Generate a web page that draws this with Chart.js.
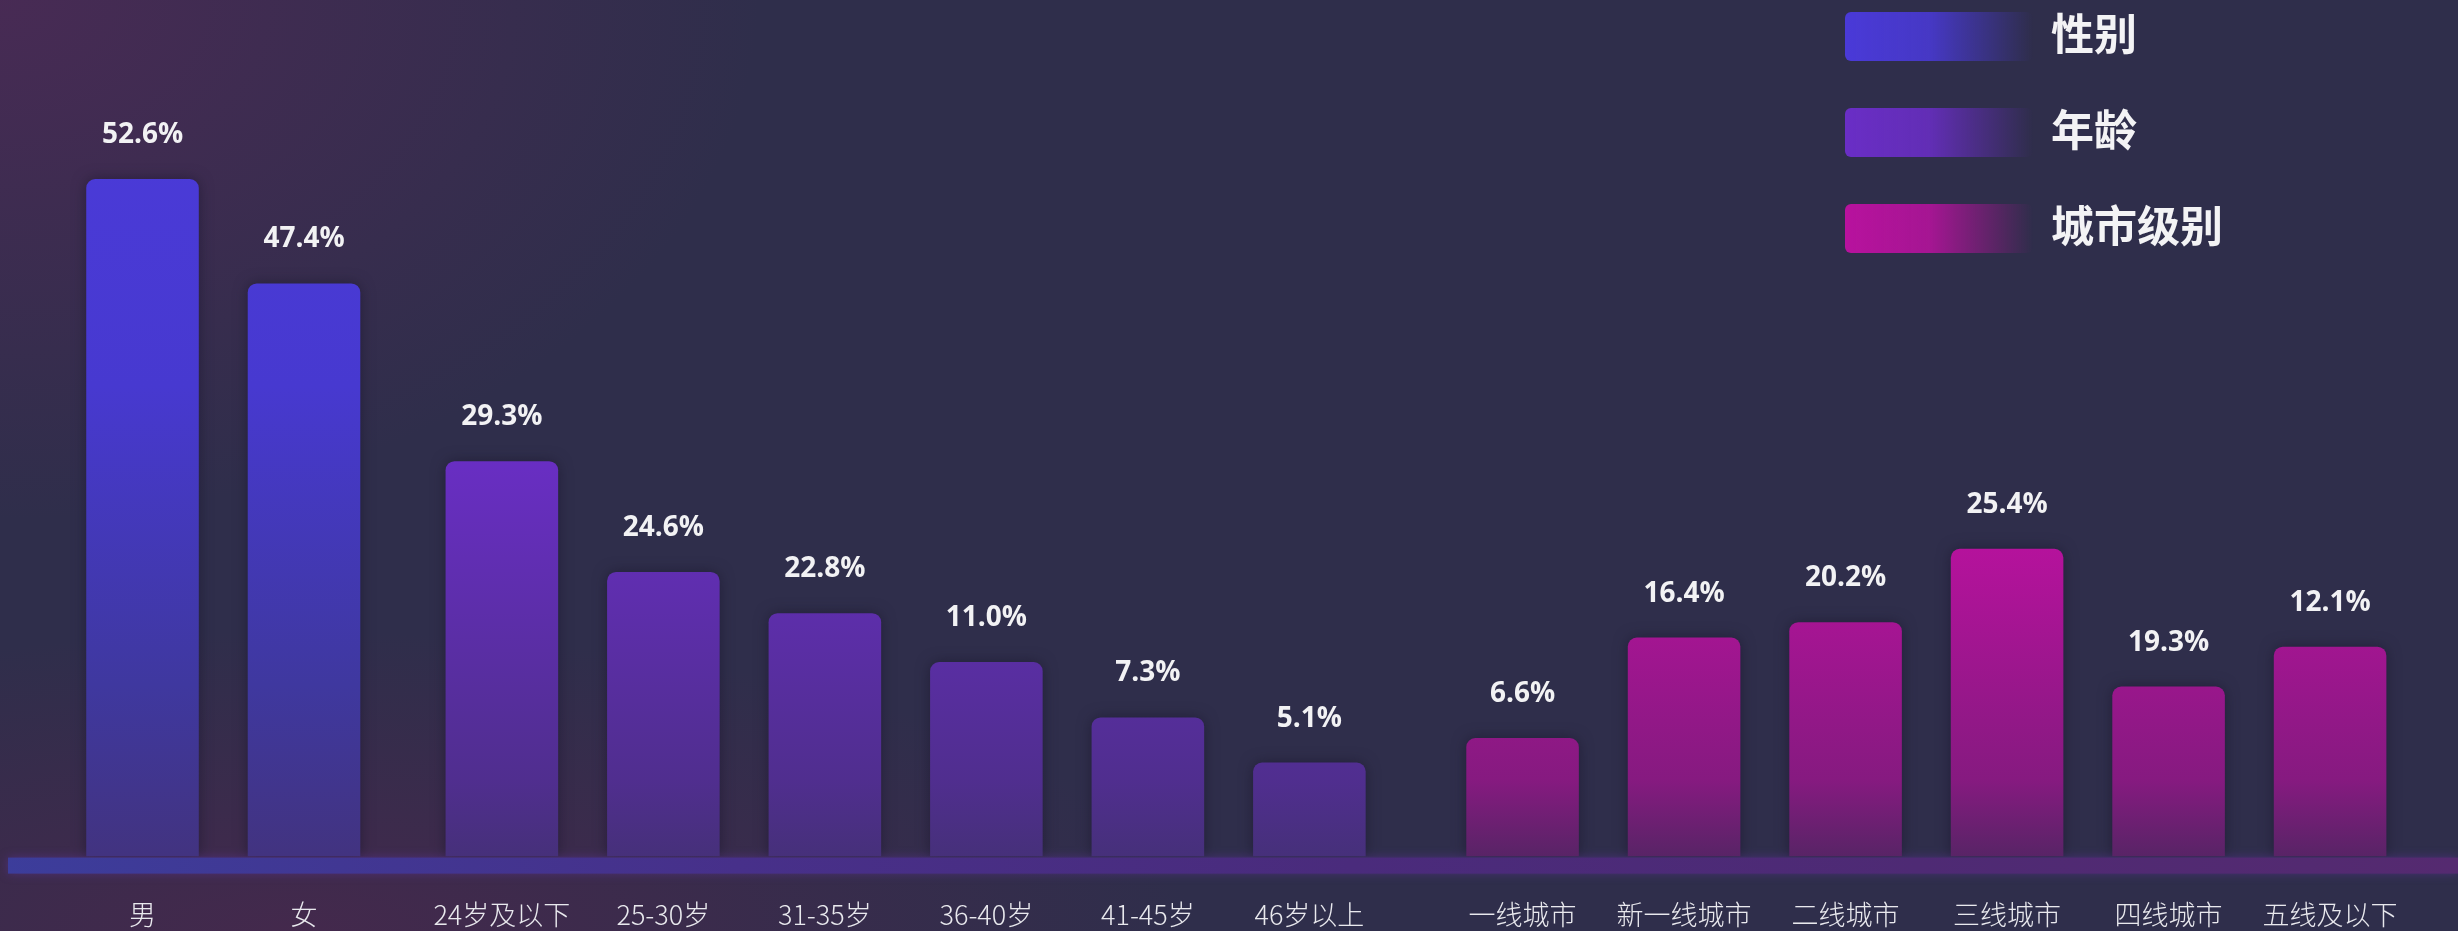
<!DOCTYPE html>
<html lang="zh">
<head>
<meta charset="utf-8">
<title>用户画像</title>
<script src="https://cdn.jsdelivr.net/npm/chart.js@4.4.1/dist/chart.umd.min.js"></script>
<style>
    html, body {
        margin: 0;
        padding: 0;
        overflow: hidden;
    }
    body {
        width: 2458px;
        height: 931px;
        background:
            radial-gradient(ellipse 760px 520px at 0% 0%, rgba(92, 40, 92, 0.55), rgba(92, 40, 92, 0) 100%),
            radial-gradient(ellipse 900px 300px at 12% 100%, rgba(88, 36, 78, 0.5), rgba(88, 36, 78, 0) 100%),
            #2f2e4b;
    }
    .chart-box {
        position: absolute;
        left: 0;
        top: 0;
        width: 2458px;
        height: 931px;
    }
    .legend {
        position: absolute;
        left: 1845px;
        top: 12px;
    }
    .legend-item {
        display: flex;
        align-items: center;
        height: 49px;
        margin-bottom: 47px;
    }
    .legend-box {
        width: 188px;
        height: 49px;
        border-radius: 6px;
    }
    .legend-text {
        margin-left: 18px;
        margin-top: -11px;
        color: #f3f3f5;
        font: bold 43px "Noto Sans CJK SC", sans-serif;
        line-height: 49px;
    }
</style>
</head>
<body>
<div class="chart-box">
    <canvas id="portrait"></canvas>
</div>
<div class="legend" id="legend"></div>

<script>
// categories
const genderLabels = ['男', '女'];
const ageLabels = ['24岁及以下', '25-30岁', '31-35岁', '36-40岁', '41-45岁', '46岁以上'];
const cityLabels = ['一线城市', '新一线城市', '二线城市', '三线城市', '四线城市', '五线及以下'];

// bar heights
const genderBars = [52.6, 44.5];
const ageBars = [30.7, 22.1, 18.9, 15.1, 10.8, 7.3];
const cityBars = [9.2, 17.0, 18.2, 23.9, 13.2, 16.3];

// printed values above the bars
const genderText = ['52.6%', '47.4%'];
const ageText = ['29.3%', '24.6%', '22.8%', '11.0%', '7.3%', '5.1%'];
const cityText = ['6.6%', '16.4%', '20.2%', '25.4%', '19.3%', '12.1%'];

const seriesNames = ['性别', '年龄', '城市级别'];

// layout: extra space before each group (in bar slots)
const groupOffset = [0, 0.225, 0.545];
const groups = [
    { labels: genderLabels, bars: genderBars, text: genderText },
    { labels: ageLabels, bars: ageBars, text: ageText },
    { labels: cityLabels, bars: cityBars, text: cityText }
];

const allLabels = [];
const allPositions = [];
let slot = 0;
groups.forEach((g, gi) => {
    g.points = g.labels.map((lab, i) => {
        const x = slot + groupOffset[gi];
        slot++;
        allLabels.push(lab);
        allPositions.push(x);
        return { x: x, y: g.bars[i] };
    });
});

// vertical colour ramps, stops are fractions of the plot height
const ramps = [
    [[0, '#4c3bdc'], [0.45, '#4739d0'], [0.8, '#3f389f'], [1, '#423380']],
    [[0, '#7030d0'], [0.5, '#6b2ec8'], [0.91, '#502e8f'], [1, '#46307a']],
    [[0, '#c80fa8'], [0.64, '#b5129c'], [0.91, '#861a80'], [1, '#582466']]
];
const legendColors = ['#4a3ad8', '#6a2ec6', '#b8129e'];

function rampFill(gi) {
    return (context) => {
        const { ctx, chartArea } = context.chart;
        if (!chartArea) return legendColors[gi];
        const g = ctx.createLinearGradient(0, chartArea.top, 0, chartArea.bottom);
        ramps[gi].forEach(s => g.addColorStop(s[0], s[1]));
        return g;
    };
}

// glowing floor strip under the bars
const floorPlugin = {
    id: 'floor',
    beforeDatasetsDraw(chart) {
        const { ctx, chartArea, width } = chart;
        const y = chartArea.bottom + 1;
        const g = ctx.createLinearGradient(0, 0, width, 0);
        g.addColorStop(0, '#3c3d9b');
        g.addColorStop(0.3, '#47308a');
        g.addColorStop(0.55, '#4a2b7c');
        g.addColorStop(0.78, '#4e2a74');
        g.addColorStop(1, '#552a70');
        ctx.save();
        ctx.shadowColor = 'rgba(90, 50, 150, 0.6)';
        ctx.shadowBlur = 10;
        ctx.fillStyle = g;
        ctx.fillRect(8, y, width - 8, 16);
        ctx.restore();

        // soft dark halo around bars
        ctx.save();
        ctx.shadowColor = 'rgba(22, 18, 40, 0.55)';
        ctx.shadowBlur = 14;
    },
    afterDatasetsDraw(chart) {
        chart.ctx.restore();
    }
};

// percentage text above each bar
const valueTextPlugin = {
    id: 'valueText',
    afterDatasetsDraw(chart) {
        const { ctx } = chart;
        ctx.save();
        ctx.fillStyle = '#f2f2f4';
        ctx.font = 'bold 28px "Open Sans", sans-serif';
        ctx.textAlign = 'center';
        ctx.textBaseline = 'middle';
        chart.data.datasets.forEach((ds, di) => {
            const meta = chart.getDatasetMeta(di);
            meta.data.forEach((bar, i) => {
                ctx.fillText(groups[di].text[i], bar.x, bar.y - 44);
            });
        });
        ctx.restore();
    }
};

const canvas = document.getElementById('portrait').getContext('2d');

const chart = new Chart(canvas, {
    type: 'bar',
    data: {
        datasets: groups.map((g, gi) => ({
            label: seriesNames[gi],
            data: g.points,
            backgroundColor: rampFill(gi),
            borderRadius: { topLeft: 9, topRight: 9 },
            borderSkipped: 'start',
            grouped: false,
            categoryPercentage: 1,
            barPercentage: 0.697
        }))
    },
    options: {
        responsive: true,
        maintainAspectRatio: false,
        animation: false,
        layout: { padding: 0 },
        plugins: {
            legend: { display: false },
            tooltip: { enabled: false }
        },
        scales: {
            x: {
                type: 'linear',
                offset: false,
                min: -0.8824,
                max: 14.337,
                grid: { display: false, drawTicks: false },
                border: { display: false },
                afterBuildTicks: (axis) => {
                    axis.ticks = allPositions.map(v => ({ value: v }));
                },
                // keep the plot full width, labels sit below the floor strip
                afterFit: (axis) => {
                    axis.paddingLeft = 0;
                    axis.paddingRight = 0;
                    axis.height = 74.4;
                },
                ticks: {
                    autoSkip: false,
                    maxRotation: 0,
                    padding: 42,
                    color: '#e9e9ee',
                    font: { family: '"Noto Sans CJK SC", sans-serif', size: 27, weight: 300 },
                    callback: (value, index) => allLabels[index]
                }
            },
            y: {
                display: false,
                min: 0,
                max: 66.5
            }
        }
    },
    plugins: [floorPlugin, valueTextPlugin]
});

// legend built from the datasets
const legend = document.getElementById('legend');
chart.data.datasets.forEach((ds, i) => {
    const item = document.createElement('div');
    item.className = 'legend-item';
    const box = document.createElement('div');
    box.className = 'legend-box';
    box.style.background = 'linear-gradient(to right, ' + legendColors[i] + ' 0%, ' +
        legendColors[i] + 'dd 45%, rgba(47, 46, 80, 0) 100%)';
    const text = document.createElement('span');
    text.className = 'legend-text';
    text.textContent = ds.label;
    item.appendChild(box);
    item.appendChild(text);
    legend.appendChild(item);
});
</script>
</body>
</html>
